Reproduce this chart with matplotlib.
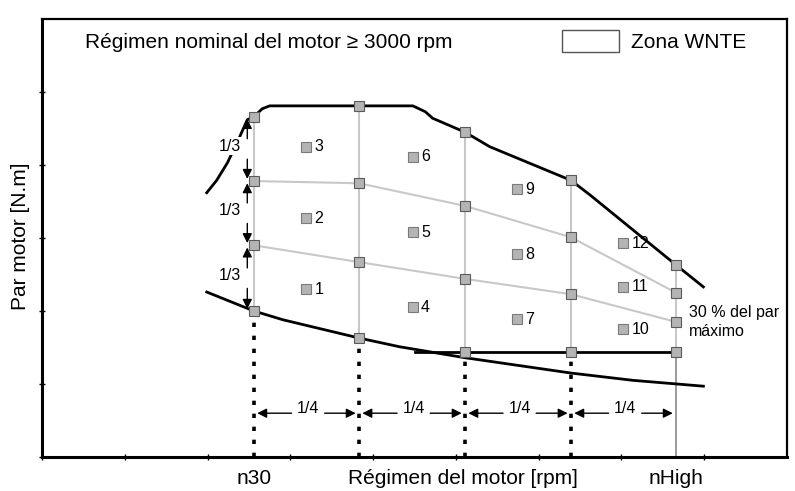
import numpy as np
import matplotlib
matplotlib.use("Agg")
import matplotlib.pyplot as plt
from matplotlib.patches import Rectangle

plt.rcParams['font.family'] = ['Liberation Sans', 'DejaVu Sans']

# engine speed grid (n30 ... nHigh) and torque levels at each speed
speed = [2.56, 3.83, 5.11, 6.39, 7.66]
torque_top = [4.66, 4.81, 4.45, 3.79, 2.63]
torque_23 = [3.78, 3.75, 3.44, 3.01, 2.25]
torque_13 = [2.90, 2.67, 2.44, 2.23, 1.85]
torque_bot = [2.00, 1.63, 1.44, 1.44, 1.44]

# full load torque curve
full_x = [1.99, 2.11, 2.24, 2.37, 2.48, 2.56, 2.66, 2.75, 3.83, 4.48, 4.63, 4.72,
          5.11, 5.41, 6.39, 6.62, 7.66, 7.99]
full_y = [3.62, 3.79, 4.03, 4.34, 4.62, 4.66, 4.77, 4.81, 4.81, 4.81, 4.73, 4.64,
          4.45, 4.25, 3.79, 3.59, 2.63, 2.33]

# 30 % of max torque curve
low_x = [1.99, 2.56, 2.91, 3.83, 4.32, 5.11, 6.39, 7.14, 7.99]
low_y = [2.26, 2.00, 1.88, 1.63, 1.51, 1.36, 1.15, 1.05, 0.97]

# horizontal floor of the zone
floor_x = [4.51, 7.66]
floor_y = [1.44, 1.44]

# numbered test points
pts_x = [3.19, 3.19, 3.19, 4.48, 4.48, 4.48, 5.74, 5.74, 5.74, 7.02, 7.02, 7.02]
pts_y = [2.30, 3.27, 4.25, 2.05, 3.08, 4.11, 1.89, 2.78, 3.67, 1.75, 2.33, 2.93]
pts_lab = ["1", "2", "3", "4", "5", "6", "7", "8", "9", "10", "11", "12"]

fig = plt.figure(figsize=(7.95, 4.91), dpi=100)
ax = fig.add_axes([42/795, 34/491, 745/795, 438/491])
ax.set_xlim(0, 9)
ax.set_ylim(0, 6)

grey = '#c8c8c8'
mfc = '#b4b4b4'
mec = '#5a5a5a'

# grid of gray lines
for i in range(len(speed)):
    ax.plot([speed[i], speed[i]], [torque_bot[i], torque_top[i]], color=grey, lw=1.5, zorder=1)
ax.plot(speed, torque_23, color=grey, lw=1.5, zorder=1)
ax.plot(speed, torque_13, color=grey, lw=1.5, zorder=1)
ax.plot([speed[-1], speed[-1]], [0, torque_bot[-1]], color='#8a8a8a', lw=1.2, zorder=1)

# dotted drop lines
for i in range(4):
    ax.plot([speed[i], speed[i]], [0, torque_bot[i]], color='black', lw=2.6,
            linestyle=(0, (1.2, 2.4)), zorder=2)

# black curves
ax.plot(full_x, full_y, color='black', lw=2, zorder=3)
ax.plot(low_x, low_y, color='black', lw=2, zorder=3)
ax.plot(floor_x, floor_y, color='black', lw=2, zorder=3)

# grid markers
for lev in [torque_top, torque_23, torque_13, torque_bot]:
    ax.plot(speed, lev, ls='none', marker='s', ms=6.5, mfc=mfc, mec=mec, mew=0.8, zorder=4)

# numbered points
ax.plot(pts_x, pts_y, ls='none', marker='s', ms=7, mfc=mfc, mec='#7a7a7a', mew=0.8, zorder=4)
for x, y, t in zip(pts_x, pts_y, pts_lab):
    ax.text(x + 0.1, y, t, fontsize=11.5, va='center', ha='left')

arr = dict(arrowstyle='-|>', color='black', lw=1.0, mutation_scale=14, shrinkA=0, shrinkB=0)

# 1/4 arrows between speeds
for i in range(4):
    a, b = speed[i], speed[i + 1]
    m = (a + b) / 2 + 0.02
    ax.annotate('', xy=(a + 0.04, 0.60), xytext=(m - 0.2, 0.60), arrowprops=arr)
    ax.annotate('', xy=(b - 0.04, 0.60), xytext=(m + 0.2, 0.60), arrowprops=arr)
    ax.text(m, 0.67, '1/4', fontsize=11.5, ha='center', va='center')

# 1/3 arrows at n30
levels = [torque_bot[0], torque_13[0], torque_23[0], torque_top[0]]
for j in range(3):
    lo, hi = levels[j], levels[j + 1]
    m = (lo + hi) / 2
    ax.annotate('', xy=(2.48, hi - 0.03), xytext=(2.48, m + 0.14), arrowprops=arr)
    ax.annotate('', xy=(2.48, lo + 0.03), xytext=(2.48, m - 0.14), arrowprops=arr)
    ax.text(2.27, m + 0.04, '1/3', fontsize=11.5, ha='center', va='center', zorder=5,
            bbox=dict(fc='white', ec='none', pad=1))

ax.text(7.82, 1.85, '30 % del par\nmáximo', fontsize=11.5, ha='left', va='center',
        linespacing=1.3)

# header texts and legend box
ax.text(0.0577, 0.947, 'Régimen nominal del motor ≥ 3000 rpm', transform=ax.transAxes,
        fontsize=15, ha='left', va='center')
ax.add_patch(Rectangle((0.698, 0.925), 0.0765, 0.050, transform=ax.transAxes,
                       fill=False, ec='#555555', lw=1))
ax.text(0.7906, 0.947, 'Zona WNTE', transform=ax.transAxes, fontsize=15,
        ha='left', va='center')

# axis labels
ax.set_xticks(range(9))
ax.set_yticks(range(6))
ax.set_xticklabels([])
ax.set_yticklabels([])
ax.tick_params(direction='inout', length=5, width=1)
tr = ax.get_xaxis_transform()
ax.text(speed[0], -0.048, 'n30', transform=tr, fontsize=15, ha='center', va='center')
ax.text(speed[-1], -0.048, 'nHigh', transform=tr, fontsize=15, ha='center', va='center')
ax.text(5.09, -0.048, 'Régimen del motor [rpm]', transform=tr, fontsize=15,
        ha='center', va='center')
ax.text(-0.0295, 0.505, 'Par motor [N.m]', transform=ax.transAxes, fontsize=15,
        rotation=90, ha='center', va='center')

for s in ['left', 'bottom']:
    ax.spines[s].set_linewidth(2.2)
for s in ['top', 'right']:
    ax.spines[s].set_linewidth(1.6)

fig.savefig('out.png', dpi=100)
